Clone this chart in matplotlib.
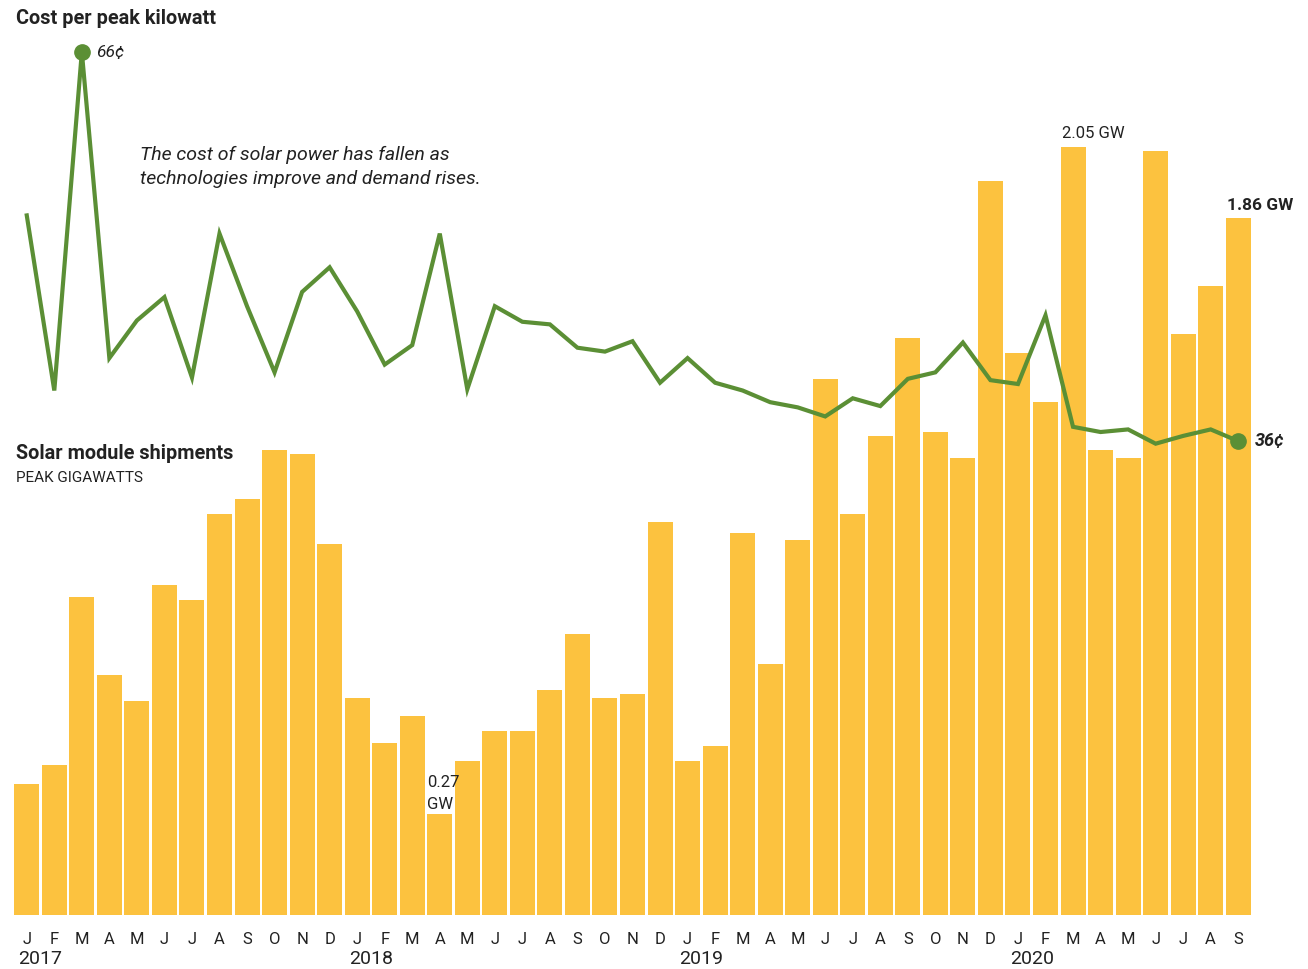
import matplotlib.pyplot as plt
from matplotlib.transforms import blended_transform_factory

# Monthly data, Jan 2017 - Sep 2020
months = ['J', 'F', 'M', 'A', 'M', 'J', 'J', 'A', 'S', 'O', 'N', 'D'] * 3 + \
         ['J', 'F', 'M', 'A', 'M', 'J', 'J', 'A', 'S']
years = ['2017', '2018', '2019', '2020']

shipments_gw = [0.35, 0.40, 0.85, 0.64, 0.57, 0.88, 0.84, 1.07, 1.11, 1.24, 1.23, 0.99,
                0.58, 0.46, 0.53, 0.27, 0.41, 0.49, 0.49, 0.60, 0.75, 0.58, 0.59, 1.05,
                0.41, 0.45, 1.02, 0.67, 1.00, 1.43, 1.07, 1.28, 1.54, 1.29, 1.22, 1.96,
                1.50, 1.37, 2.05, 1.24, 1.22, 2.04, 1.55, 1.68, 1.86]

cost_cents = [53.4, 39.9, 66.0, 42.4, 45.3, 47.1, 40.9, 52.0, 46.4, 41.3, 47.5, 49.4,
              46.0, 41.9, 43.4, 52.0, 40.0, 46.4, 45.2, 45.0, 43.2, 42.9, 43.7, 40.5,
              42.4, 40.5, 39.9, 39.0, 38.6, 37.9, 39.3, 38.7, 40.8, 41.3, 43.6, 40.7,
              40.4, 45.7, 37.1, 36.7, 36.9, 35.8, 36.4, 36.9, 36.0]

BAR = '#FCC23F'
GREEN = '#5B8F35'
TXT = '#222222'
W, H = 1308, 969

plt.rcParams['font.family'] = ['Roboto', 'DejaVu Sans']

fig = plt.figure(figsize=(W / 100, H / 100), dpi=100)
ax = fig.add_axes([13 / W, 1 - 915 / H, (1252 - 13) / W, 915 / H])
ax2 = ax.twinx()

x = list(range(len(shipments_gw)))
ax.bar(x, shipments_gw, width=0.91, color=BAR, zorder=1)
ax.set_xlim(-0.5, len(x) - 0.5)
ax.set_ylim(0, 2.4426)

ax2.plot(x, cost_cents, color=GREEN, linewidth=3.0, solid_joinstyle='miter', zorder=3)
imax = cost_cents.index(max(cost_cents))
ax2.plot([imax, x[-1]], [cost_cents[imax], cost_cents[-1]], 'o', color=GREEN,
         markersize=11, zorder=4)
ax2.set_ylim(-0.54, 70.01)

for a in (ax, ax2):
    for s in a.spines.values():
        s.set_visible(False)
    a.set_yticks([])
ax2.set_xticks([])

ax.set_xticks(x)
ax.set_xticklabels(months, fontsize=12, color=TXT)
ax.tick_params(axis='x', length=0, pad=12)

# Year labels under each January
tr = blended_transform_factory(ax.transData, fig.transFigure)
for k, yr in enumerate(years):
    ax.text(12 * k - 0.3, 1 - 959 / H, yr, transform=tr, ha='left', va='center',
            fontsize=14, color=TXT)

# Value annotations
ax.text(38.75, 2.05 + 0.015, '2.05 GW', ha='center', va='bottom', fontsize=12, color=TXT)
ax.text(44.8, 1.86 + 0.015, '1.86 GW', ha='center', va='bottom', fontsize=12.5,
        fontweight='bold', color=TXT, clip_on=False)
ax.text(14.55, 0.27 + 0.005, '0.27\nGW', ha='left', va='bottom', fontsize=12,
        color=TXT, linespacing=1.6)
ax2.text(imax + 0.5, cost_cents[imax], '66¢', ha='left', va='center', fontsize=12.5,
         style='italic', color=TXT)
ax2.text(x[-1] + 0.6, cost_cents[-1], '36¢', ha='left', va='center', fontsize=13,
         style='italic', fontweight='bold', color=TXT, clip_on=False)

# Titles and note
fig.text(16 / W, 1 - 18 / H, 'Cost per peak kilowatt', fontsize=14.3, fontweight='bold',
         color=TXT, va='center', ha='left')
fig.text(140 / W, 1 - 167 / H,
         'The cost of solar power has fallen as\ntechnologies improve and demand rises.',
         fontsize=14, style='italic', color=TXT, va='center', ha='left', linespacing=1.45)
fig.text(16 / W, 1 - 453 / H, 'Solar module shipments', fontsize=14.3, fontweight='bold',
         color=TXT, va='center', ha='left')
fig.text(16 / W, 1 - 478 / H, 'PEAK GIGAWATTS', fontsize=11, color=TXT,
         va='center', ha='left')

fig.savefig('out.png', dpi=100, facecolor='white')
